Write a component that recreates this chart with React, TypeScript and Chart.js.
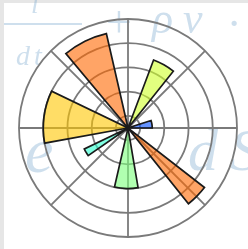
import React, { useEffect, useRef } from 'react';
import { Chart, registerables } from 'chart.js';

Chart.register(...registerables);

// Polar bars: start angle (deg, counter-clockwise from east), radius, angular width (deg)
const barStartsDeg = [0, 51.4, 102.9, 154.3, 205.7, 257.1, 308.6];
const barRadii = [2, 6, 8, 7, 4, 5, 8];
const barWidthsDeg = [18, 18, 27, 36, 9, 22.5, 13.5];
const barColors = [
  'rgba(0,77,255,0.6)',
  'rgba(206,255,41,0.6)',
  'rgba(255,104,0,0.6)',
  'rgba(255,198,0,0.6)',
  'rgba(41,255,206,0.6)',
  'rgba(124,255,124,0.6)',
  'rgba(255,104,0,0.6)',
];
// radial grid rings (first one is the centre, not drawn) and the 9 = outer border
const radialTicks = [0, 1, 3, 5, 7, 9];
const radialMax = 9;
// eight spokes every 45 degrees
const spokeLabels = ['', '', '', '', '', '', '', ''];

const backdropPlugin = {
  id: 'backdrop',
  beforeDraw(chart: any) {
    const c = chart.ctx as CanvasRenderingContext2D;
    c.save();
    c.fillStyle = '#e6e6e6';
    c.fillRect(0, 0, chart.width, chart.height);
    c.fillStyle = '#ffffff';
    c.fillRect(4, 3, chart.width - 4, chart.height - 3);
    c.fillStyle = 'rgba(120,165,205,0.36)';
    c.textBaseline = 'alphabetic';
    c.textAlign = 'left';
    // fraction bar
    c.fillRect(4, 23, 78, 2);
    c.font = 'italic 28px "Liberation Serif"';
    c.fillText('l', 31, 13);
    c.fillText('d', 16, 65);
    c.fillText('t', 34, 65);
    c.textAlign = 'center';
    c.font = '46px "Liberation Serif"';
    c.fillText('+', 119, 37);
    c.textAlign = 'left';
    c.font = 'italic 44px "Liberation Serif"';
    c.fillText('ρ', 152, 33);
    c.fillText('v', 183, 33);
    c.fillText('·', 228, 38);
    c.font = 'italic 64px "Liberation Serif"';
    c.fillText('e', 25, 172);
    c.font = 'italic 60px "Liberation Serif"';
    c.fillText('d', 188, 170);
    c.fillText('S', 230, 170);
    c.restore();
  },
};

export default function App() {
  const ref = useRef<HTMLCanvasElement>(null);
  useEffect(() => {
    document.body.style.margin = '0';
    const segValues: number[] = [];
    const segAngles: number[] = [];
    const segColors: string[] = [];
    const segBorders: number[] = [];
    const segLabels: string[] = [];
    const pushGap = (g: number) => {
      segValues.push(0);
      segAngles.push(g);
      segColors.push('rgba(0,0,0,0)');
      segBorders.push(0);
      segLabels.push('');
    };
    let prev = 360;
    for (let k = barStartsDeg.length - 1; k >= 0; k--) {
      const end = barStartsDeg[k] + barWidthsDeg[k];
      const gap = prev - end;
      if (gap > 0.01) pushGap(gap);
      segValues.push(barRadii[k]);
      segAngles.push(barWidthsDeg[k]);
      segColors.push(barColors[k]);
      segBorders.push(1.7);
      segLabels.push('bar' + k);
      prev = barStartsDeg[k];
    }
    if (prev > 0.01) pushGap(prev);

    const gridColor = '#7a7a7a';
    const chart = new Chart(ref.current as HTMLCanvasElement, {
      type: 'polarArea',
      data: {
        labels: segLabels,
        datasets: [
          {
            data: segValues,
            angle: (ctx: any) => segAngles[ctx.dataIndex],
            backgroundColor: segColors,
            borderColor: '#1a1a1a',
            borderWidth: segBorders,
            borderJoinStyle: 'miter',
            borderAlign: 'center',
          } as any,
        ],
      },
      options: {
        responsive: false,
        animation: false,
        events: [],
        layout: { padding: { left: 19, right: 11, top: 19, bottom: 12 } },
        plugins: { legend: { display: false }, tooltip: { enabled: false } },
        scales: {
          r: {
            min: 0,
            max: radialMax,
            startAngle: 90,
            labels: spokeLabels,
            afterBuildTicks: (scale: any) => {
              scale.ticks = radialTicks.map((v) => ({ value: v }));
            },
            ticks: { display: false },
            pointLabels: { display: false },
            grid: { circular: true, color: gridColor, lineWidth: 1.8 },
            angleLines: { display: true, color: gridColor, lineWidth: 1.8 },
          } as any,
        },
      },
      plugins: [backdropPlugin],
    });
    return () => chart.destroy();
  }, []);
  return (
    <canvas
      ref={ref}
      width={248}
      height={249}
      style={{ display: 'block', width: 248, height: 249 }}
    />
  );
}
